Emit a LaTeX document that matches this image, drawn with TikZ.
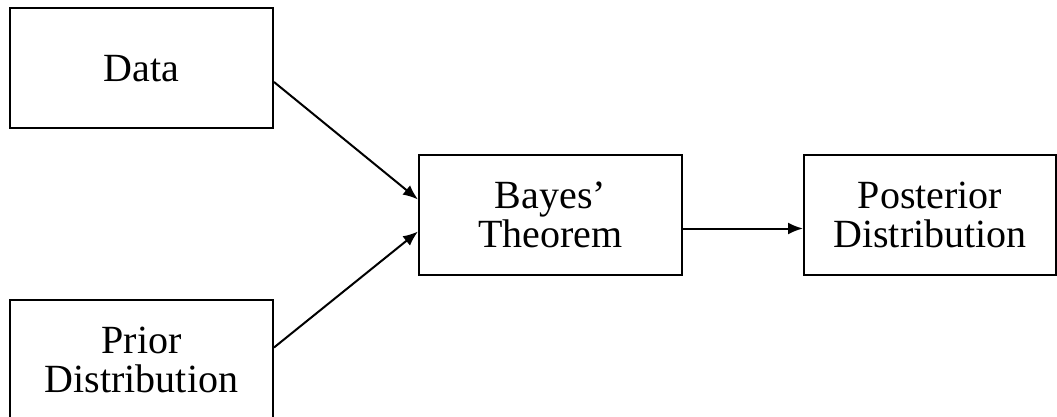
\documentclass[tikz,border=0pt]{standalone}
\usepackage{fontspec}
\setmainfont{Liberation Serif}
\usetikzlibrary{arrows.meta,positioning}

\begin{document}
\begin{tikzpicture}[
  x=1pt, y=-1pt,
  font=\fontsize{40}{39}\selectfont,
  box/.style={draw, line width=2pt, align=center, minimum width=263pt, minimum height=120pt, inner sep=0pt},
  arr/.style={-{Latex[length=15pt,width=12pt]}, line width=2pt}]
  \useasboundingbox (0,0) rectangle (1057,417);
  \node[box] (data) at (141.5,68.5) {Data};
  \node[box, below=169pt of data] (prior) {Prior\\Distribution};
  \node[box, below right=24pt and 144pt of data] (bayes) {Bayes'\\Theorem};
  \node[box, minimum width=252pt, right=120pt of bayes] (post) {Posterior\\Distribution};
  \draw[arr] ([yshift=-13.5pt]data.east) -- ([yshift=15pt]bayes.west);
  \draw[arr] ([yshift=12pt]prior.east) -- ([yshift=-17pt]bayes.west);
  \draw[arr] ([yshift=-14pt]bayes.east) -- ([yshift=-14pt]post.west);
\end{tikzpicture}
\end{document}
